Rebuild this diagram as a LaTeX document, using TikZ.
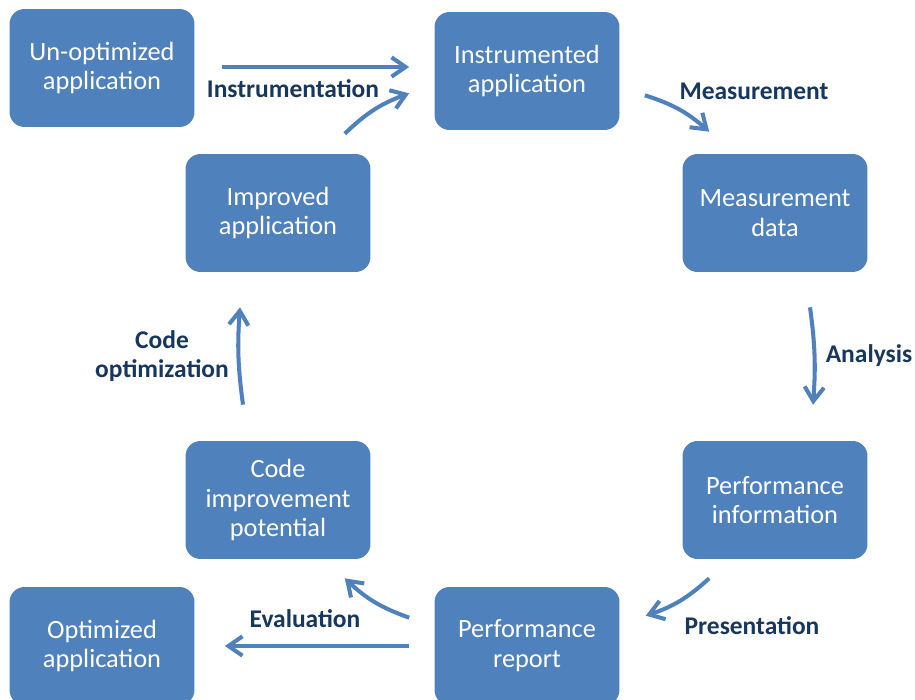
\documentclass[tikz,border=0pt]{standalone}
\usepackage{fontspec}
\setmainfont{Carlito}
\usetikzlibrary{arrows.meta, positioning, calc}
\definecolor{boxblue}{HTML}{4F81BD}
\definecolor{lblnavy}{HTML}{17375E}

\begin{document}
\begin{tikzpicture}[x=0.02cm, y=-0.02cm,
  box/.style={fill=boxblue, rounded corners=0.3cm, minimum width=3.7cm, minimum height=2.36cm, text=white, align=center, font=\fontsize{15}{17}\selectfont},
  lbl/.style={text=lblnavy, align=center, font=\bfseries\fontsize{14.5}{17}\selectfont},
  flow/.style={draw=boxblue, line width=2.3pt, -{Straight Barb[length=8pt, width=11pt]}}]
\useasboundingbox (0, 0) rectangle (915, 699);

\node (b1) at (102, 68) [box] {Un-optimized\\application};
\node (b2) at (527, 71) [box] {Instrumented\\application};
\node (b3) at (775, 213) [box] {Measurement\\data};
\node (b4) at (278, 213) [box] {Improved\\application};
\node (b5) at (775, 500) [box] {Performance\\information};
\node (b6) at (278, 500) [box] {Code\\improvement\\potential};
\node (b7) at (102, 646) [box] {Optimized\\application};
\node (b8) at (527, 646) [box] {Performance\\report};

\node (l1) at (293, 89) [lbl] {Instrumentation};
\node (l2) at (754, 91) [lbl] {Measurement};
\node (l3) at (869, 356) [lbl] {Analysis};
\node (l4) at (752, 626) [lbl] {Presentation};
\node (l5) at (305, 619) [lbl] {Evaluation};
\node (l6) at (162, 356) [lbl] {Code\\optimization};

\draw[flow, shorten <=27*0.02cm, shorten >=25*0.02cm] ([yshift=0.02cm]b1.east) -- ([yshift=0.02cm]b1.east -| b2.west);
\draw[flow] ([shift={(-26,-20)}]b4.north east) to[bend left=12] ([shift={(-25,-37)}]b2.south west);
\draw[flow] ([shift={(25,-35)}]b2.south east) to[bend left=12] ([shift={(27,-22)}]b3.north west);
\draw[flow] ([shift={(35,35)}]b3.south) to[bend left=6] ([shift={(38,-36)}]b5.north);
\draw[flow] ([shift={(27,19)}]b5.south west) to[bend left=12] ([shift={(26,29)}]b8.north east);
\draw[flow] ([shift={(-25,31)}]b8.north west) to[bend left=12] ([shift={(-26,19)}]b6.south east);
\draw[flow, shorten <=25*0.02cm, shorten >=30*0.02cm] (b8.west) -- (b8.west -| b7.east);
\draw[flow] ([shift={(-35,-36)}]b6.north) to[bend left=6] ([shift={(-38,35)}]b4.south);
\end{tikzpicture}
\end{document}
